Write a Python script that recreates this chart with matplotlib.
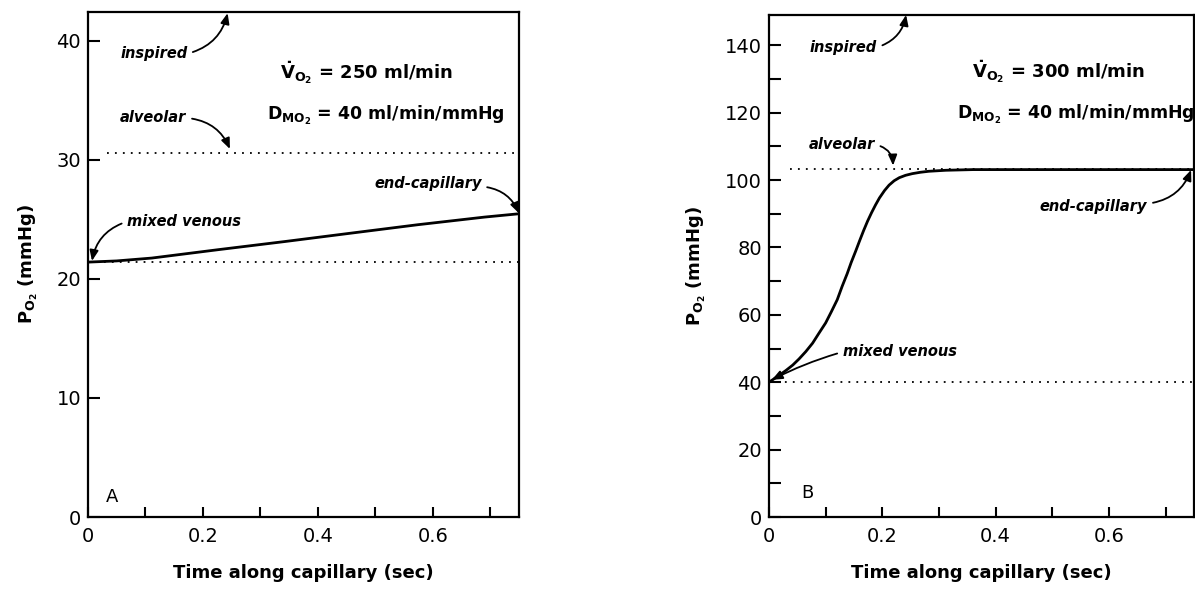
import matplotlib
matplotlib.use("Agg")
import matplotlib.pyplot as plt
from matplotlib.ticker import MultipleLocator

plt.rcParams['font.family'] = ['DejaVu Sans']
plt.rcParams['mathtext.default'] = 'regular'

# Panel A: VO2 = 250 ml/min
tA = [0, 0.05, 0.111, 0.226, 0.343, 0.459, 0.574, 0.69, 0.75]
pA = [21.4, 21.5, 21.74, 22.44, 23.13, 23.84, 24.54, 25.18, 25.46]
alvA, venA = 30.6, 21.4

# Panel B: VO2 = 300 ml/min
tB = [0, 0.015, 0.030, 0.042, 0.053, 0.065, 0.077, 0.088, 0.100, 0.110, 0.1205,
      0.129, 0.138, 0.145, 0.153, 0.160, 0.167, 0.174, 0.181, 0.188, 0.195, 0.204, 0.212,
      0.221, 0.230, 0.241, 0.253, 0.267, 0.282, 0.312, 0.36, 0.75]
pB = [40, 41.7, 43.5, 45.1, 46.9, 49.1, 51.6, 54.5, 57.6, 60.9, 64.5,
      68.4, 72.2, 75.5, 78.9, 82.0, 85.0, 87.8, 90.3, 92.6, 94.7, 96.9, 98.5,
      99.8, 100.7, 101.4, 101.9, 102.3, 102.6, 102.9, 103.1, 103.1]
alvB, venB, inspB = 103.4, 40, 149

xticks = [0, 0.2, 0.4, 0.6]
xticklabels = ['0', '0.2', '0.4', '0.6']

fig = plt.figure(figsize=(11.95, 5.9), dpi=100)
axA = fig.add_axes([0.0736, 0.1237, 0.3607, 0.856])
axB = fig.add_axes([0.6435, 0.1237, 0.3556, 0.851])

dots = (0, (1, 3.4))
ann_font = dict(fontsize=10.5, fontstyle='italic', fontweight='bold')


def arrow(ax, txt, tip, pos, rad, ha='left', relpos=(1, 0.5)):
    ax.annotate(txt, xy=tip, xytext=pos, ha=ha, va='center', **ann_font,
                arrowprops=dict(arrowstyle='-|>,head_length=0.6,head_width=0.25',
                                connectionstyle='arc3,rad=%s' % rad,
                                color='black', lw=1.3, relpos=relpos,
                                shrinkA=2, shrinkB=0),
                annotation_clip=False)


def style(ax, ymax, ymaj, ymin):
    ax.set_xlim(0, 0.75)
    ax.set_ylim(0, ymax)
    for s in ax.spines.values():
        s.set_linewidth(1.6)
    ax.set_xticks(xticks)
    ax.set_xticklabels(xticklabels)
    ax.xaxis.set_minor_locator(MultipleLocator(0.1))
    ax.yaxis.set_major_locator(MultipleLocator(ymaj))
    ax.yaxis.set_minor_locator(MultipleLocator(ymin))
    ax.tick_params(which='both', direction='in', width=1.5, labelsize=14)
    ax.tick_params(axis='y', which='both', length=8.5, pad=5)
    ax.tick_params(axis='x', which='both', length=7, pad=7)
    ax.set_xlabel('Time along capillary (sec)', fontsize=13, fontweight='bold', labelpad=13)
    ax.set_ylabel('P$_{O_2}$ (mmHg)', fontsize=13, fontweight='bold', labelpad=12)


# ---- Panel A
style(axA, 42.4, 10, 10)
axA.axhline(alvA, xmin=0.033 / 0.75, color='black', lw=1.3, ls=dots)
axA.axhline(venA, color='black', lw=1.3, ls=dots)
axA.plot(tA, pA, color='black', lw=2)
axA.text(0.042, 1.7, 'A', fontsize=13, ha='center', va='center')
axA.text(0.334, 37.3, r'$\dot{V}_{O_2}$ = 250 ml/min', fontsize=13, fontweight='bold', va='center')
axA.text(0.311, 33.7, r'$D_{MO_2}$ = 40 ml/min/mmHg', fontsize=12.5, fontweight='bold', va='center')
arrow(axA, 'inspired', (0.243, 42.3), (0.056, 38.9), 0.3)
arrow(axA, 'alveolar', (0.247, 30.9), (0.056, 33.5), -0.3)
arrow(axA, 'mixed venous', (0.007, 21.5), (0.068, 24.8), 0.3, relpos=(0, 0.5))
arrow(axA, 'end-capillary', (0.75, 25.5), (0.685, 28.0), -0.3, ha='right', relpos=(1, 0.3))

# ---- Panel B
style(axB, inspB, 20, 10)
axB.axhline(alvB, xmin=0.037 / 0.75, color='black', lw=1.3, ls=dots)
axB.axhline(venB, color='black', lw=1.3, ls=dots)
axB.plot(tB, pB, color='black', lw=2)
axB.text(0.067, 7.1, 'B', fontsize=13, ha='center', va='center')
axB.text(0.358, 132.2, r'$\dot{V}_{O_2}$ = 300 ml/min', fontsize=13, fontweight='bold', va='center')
axB.text(0.332, 119.5, r'$D_{MO_2}$ = 40 ml/min/mmHg', fontsize=12.5, fontweight='bold', va='center')
arrow(axB, 'inspired', (0.242, 149), (0.072, 139.4), 0.3)
arrow(axB, 'alveolar', (0.219, 104.3), (0.070, 110.5), -0.4)
arrow(axB, 'end-capillary', (0.745, 103.0), (0.668, 92.1), 0.3, ha='right', relpos=(1, 0.7))
arrow(axB, 'mixed venous', (0.005, 40.7), (0.13, 49), 0.05, relpos=(0, 0.5))

fig.savefig('out.png', dpi=100)
